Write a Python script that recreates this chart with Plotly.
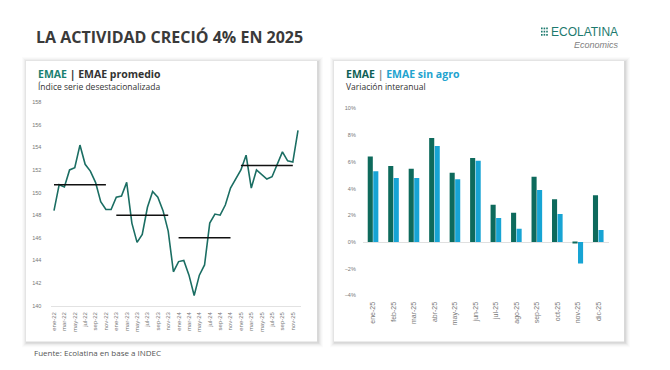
import plotly.graph_objects as go

# ---------------- data ----------------
months_es = ["ene", "feb", "mar", "abr", "may", "jun", "jul", "ago", "sep", "oct", "nov", "dic"]
years = ["22", "23", "24", "25"]
periods = [f"{m}-{y}" for y in years for m in months_es]

emae_index = [148.4, 150.7, 150.5, 152.0, 152.2, 154.2, 152.5, 151.9, 150.9, 149.2, 148.5, 148.5,
              149.6, 149.7, 150.9, 147.3, 145.6, 146.3, 148.7, 150.1, 149.6, 148.4, 146.6, 143.0,
              143.9, 144.0, 142.7, 140.9, 142.7, 143.6, 147.3, 148.1, 148.0, 148.9, 150.4, 151.2,
              152.0, 153.3, 150.4, 152.0, 151.6, 151.2, 151.4, 152.5, 153.6, 152.8, 152.7, 155.5]

avg_years = ["22", "23", "24", "25"]
avg_values = [150.7, 148.0, 146.0, 152.4]

left_ticks = periods[::2]

bar_months = ["ene-25", "feb-25", "mar-25", "abr-25", "may-25", "jun-25",
              "jul-25", "ago-25", "sep-25", "oct-25", "nov-25", "dic-25"]
emae_yoy = [6.4, 5.7, 5.5, 7.8, 5.2, 6.3, 2.8, 2.2, 4.9, 3.2, -0.1, 3.5]
sin_agro_yoy = [5.3, 4.8, 4.8, 7.2, 4.7, 6.1, 1.8, 1.0, 3.9, 2.1, -1.6, 0.9]

# ---------------- style ----------------
W, H = 670, 370
TEAL = "#0e6a5c"
LINE = "#1b6e63"
BLUE = "#17a4d4"
TXT = "#333333"
TICK = "#777777"
FONT = "Open Sans"


def px(x):
    return x / W


def py(y):
    return 1 - y / H


fig = go.Figure()

fig.add_trace(go.Scatter(x=periods, y=emae_index, mode="lines",
                         line=dict(color=LINE, width=1.6),
                         xaxis="x", yaxis="y", showlegend=False, hoverinfo="skip"))

for yr, v in zip(avg_years, avg_values):
    fig.add_trace(go.Scatter(x=[f"ene-{yr}", f"nov-{yr}"], y=[v, v], mode="lines",
                             line=dict(color="#111111", width=1.5),
                             xaxis="x", yaxis="y", showlegend=False, hoverinfo="skip"))

fig.add_trace(go.Bar(x=bar_months, y=emae_yoy, marker=dict(color=TEAL, line=dict(width=0)),
                     xaxis="x2", yaxis="y2", showlegend=False, name="EMAE"))
fig.add_trace(go.Bar(x=bar_months, y=sin_agro_yoy, marker=dict(color=BLUE, line=dict(width=0)),
                     xaxis="x2", yaxis="y2", showlegend=False, name="EMAE sin agro"))

# ---------------- cards ----------------
shapes = []
cards = [(26, 59, 317, 344), (334, 59, 624, 344)]
for (x0, y0, x1, y1) in cards:
    for k, a in [(5, 0.015), (4, 0.02), (3, 0.03), (2, 0.04), (1, 0.05)]:
        shapes.append(dict(type="rect", xref="paper", yref="paper",
                           x0=px(x0 - k + 1), x1=px(x1 + k + 1), y0=py(y1 + k + 1), y1=py(y0 - k + 1),
                           fillcolor=f"rgba(0,0,0,{a})", line=dict(width=0), layer="below"))
    shapes.append(dict(type="rect", xref="paper", yref="paper",
                       x0=px(x0), x1=px(x1), y0=py(y1), y1=py(y0),
                       fillcolor="white", line=dict(width=0), layer="below"))

# logo dots
for c in range(3):
    for r in range(3):
        cx = 541 + c * 2.6
        cy = 25 + r * 3.2
        shapes.append(dict(type="rect", xref="paper", yref="paper",
                           x0=px(cx), x1=px(cx + 1.6), y0=py(cy + 1.8), y1=py(cy),
                           fillcolor="#1d7a6e", line=dict(width=0)))

annotations = [
    dict(text="<b>LA ACTIVIDAD CRECIÓ 4% EN 2025</b>", x=px(34), y=py(35), xanchor="left", yanchor="middle",
         font=dict(family=FONT, size=16, color="#3a3a3a")),
    dict(text="ECOLATINA", x=px(549), y=py(29), xanchor="left", yanchor="middle",
         font=dict(family="Liberation Sans", size=12, color="#1d7a6e")),
    dict(text="<i>Economics</i>", x=px(621), y=py(42.5), xanchor="right", yanchor="middle",
         font=dict(family="Liberation Sans", size=9, color="#808080")),
    dict(text=f"<b><span style='color:#1a7f70'>EMAE</span> | EMAE promedio</b>", x=px(36), y=py(72),
         xanchor="left", yanchor="middle", font=dict(family=FONT, size=10.5, color=TXT)),
    dict(text="Índice serie desestacionalizada", x=px(36), y=py(85), xanchor="left", yanchor="middle",
         font=dict(family=FONT, size=8.5, color=TXT)),
    dict(text=f"<b><span style='color:#0f5f55'>EMAE</span> <span style='color:#888'>|</span> "
              f"<span style='color:#22a3cf'>EMAE sin agro</span></b>", x=px(344), y=py(72),
         xanchor="left", yanchor="middle", font=dict(family=FONT, size=10.5, color=TXT)),
    dict(text="Variación interanual", x=px(344), y=py(85), xanchor="left", yanchor="middle",
         font=dict(family=FONT, size=8.5, color=TXT)),
    dict(text="Fuente: Ecolatina en base a INDEC", x=px(32), y=py(355), xanchor="left", yanchor="middle",
         font=dict(family=FONT, size=8, color="#555555")),
]
for a in annotations:
    a.update(xref="paper", yref="paper", showarrow=False)

fig.update_layout(
    width=W, height=H,
    margin=dict(l=0, r=0, t=0, b=0),
    paper_bgcolor="white", plot_bgcolor="rgba(0,0,0,0)",
    shapes=shapes, annotations=annotations,
    barmode="group", bargap=0.46, bargroupgap=0.08,
    xaxis=dict(domain=[px(51.4), px(300.6)], anchor="y", type="category",
               categoryorder="array", categoryarray=periods,
               range=[-0.5, 47.5], tickmode="array", tickvals=left_ticks, ticktext=left_ticks,
               tickangle=-90, tickfont=dict(family="Liberation Sans", size=6, color=TICK),
               showline=True, linecolor="#e2e2e2", linewidth=1, ticks="", showgrid=False,
               ticklabelstandoff=3, fixedrange=True),
    yaxis=dict(domain=[py(307.7), py(100.7)], anchor="x", range=[140, 158], dtick=2, tick0=140,
               tickfont=dict(family="Liberation Sans", size=5.5, color=TICK),
               showgrid=False, zeroline=False, showline=False, ticks="", ticklabelstandoff=9),
    xaxis2=dict(domain=[px(362.8), px(608.5)], anchor="y2", type="category",
                categoryorder="array", categoryarray=bar_months,
                tickangle=-90, tickfont=dict(family="Liberation Sans", size=7, color=TICK),
                showline=False, ticks="", showgrid=False, ticklabelstandoff=4),
    yaxis2=dict(domain=[py(297.3), py(107.3)], anchor="x2", range=[-4, 10], dtick=2, tick0=-4,
                ticksuffix="%", tickfont=dict(family="Liberation Sans", size=5.5, color=TICK),
                showgrid=False, zeroline=True, zerolinecolor="#e0e0e0", zerolinewidth=1,
                showline=False, ticks="", ticklabelstandoff=6),
)

fig.write_html("out.html", config={"displayModeBar": False},
               post_script="document.body.style.margin='0px';document.body.style.overflow='hidden';")
